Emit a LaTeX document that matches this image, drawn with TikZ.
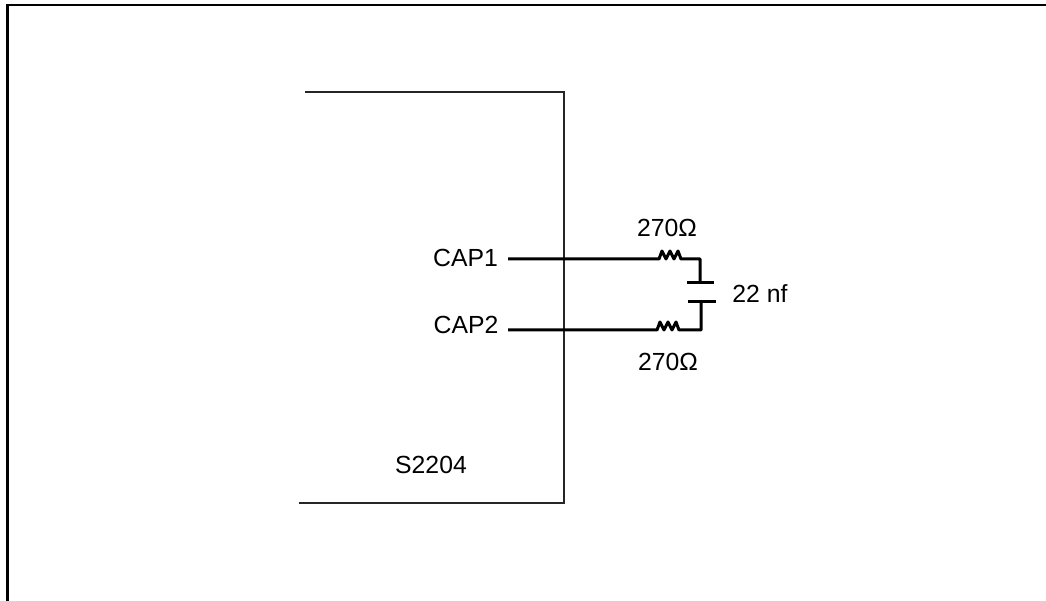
\documentclass[tikz,border=0pt]{standalone}
\usepackage{fontspec}
\setmainfont{Liberation Sans}
\tikzset{
	wire/.style = {line width = 0.06cm},
	thin line/.style = {line width = 0.024cm,black!85},
	frame line/.style = {line width = 0.045cm},
	lbl/.style = {inner sep = 0pt,font = \fontsize{14.1}{16}\selectfont}
}
\begin{document}
\begin{tikzpicture}[x = 0.02cm,y = -0.02cm]
	\useasboundingbox (0,0) rectangle (1046,601);
	\draw[frame line] (7.5,601) -- (7.5,5) -- (1046,5);
	\draw[thin line] (305,92) -- (564,92) -- (564,503) -- (299,503);
	\node[lbl] (chip) at (431,465) {S2204};
	\node[lbl] (cap1) at (465.5,258) {CAP1};
	\node[lbl] (cap2) at (466,325) {CAP2};
	\node[lbl] (r1) at (667,228) {270Ω};
	\node[lbl] (r2) at (668,362) {270Ω};
	\node[lbl] (c1) at (760,294) {22 nf};
	\coordinate (pin1) at (508,259);
	\coordinate (pin2) at (508,330);
	\coordinate (plate1) at (700,283);
	\coordinate (plate2) at (701,302);
	\draw[wire,line join = round] (pin1) -- (659,259) -- ++(3,-8) -- ++(4,8) -- ++(4,-8) -- ++(4,8) -- ++(4,-8) -- ++(3,8) -| (plate1);
	\draw[wire,line join = round] (pin2) -- (657,330) -- ++(3,-8) -- ++(4,8) -- ++(4,-8) -- ++(4,8) -- ++(4,-8) -- ++(3,8) -| (plate2);
	\draw[wire] (687,283) -- (plate1) -- (714,283);
	\draw[wire] (688,302) -- (plate2) -- (716,302);
\end{tikzpicture}
\end{document}
